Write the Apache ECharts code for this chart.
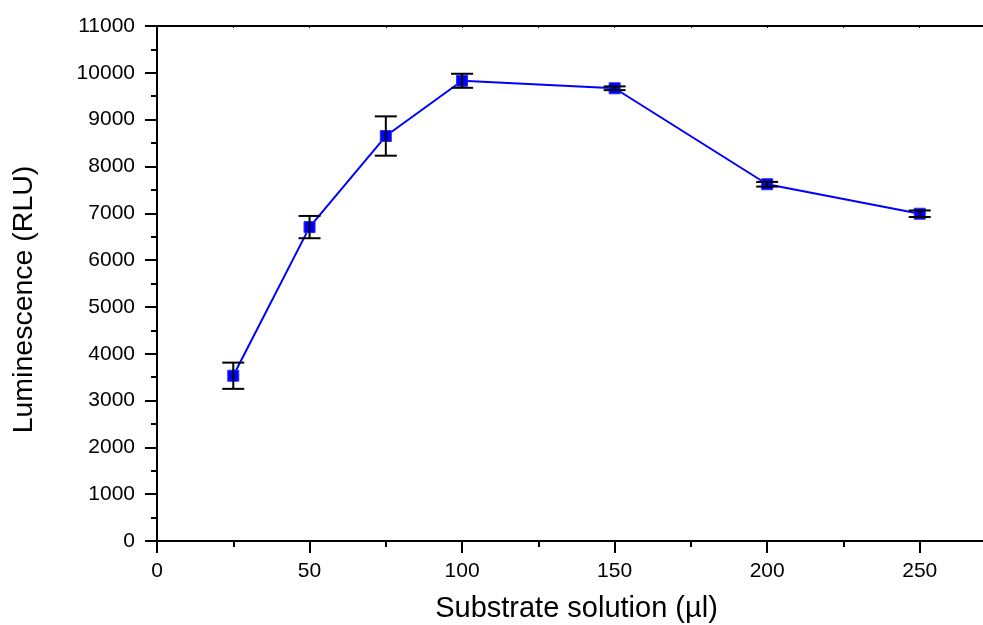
<!DOCTYPE html>
<html>
<head>
  <meta charset="UTF-8">
  <title>Luminescence vs substrate solution</title>
  <style>
    body { margin: 0; background: #fff; }
    #chart { width: 983px; height: 625px; }
  </style>
  <script src="https://cdn.jsdelivr.net/npm/echarts@6/dist/echarts.min.js"></script>
</head>
<body>
  <div id="chart"></div>
  <script>
    // data
    var volumes = [25, 50, 75, 100, 150, 200, 250];
    var lum = [3530, 6705, 8650, 9830, 9670, 7620, 6990];
    var errs = [280, 238, 420, 150, 40, 50, 70];
    var xTicks = [0, 50, 100, 150, 200, 250];

    var font = 'Arial, "Liberation Sans", sans-serif';
    var chart = echarts.init(document.getElementById('chart'));

    var points = volumes.map(function (v, i) { return [v, lum[i]]; });
    var errData = volumes.map(function (v, i) { return [v, lum[i] - errs[i], lum[i] + errs[i]]; });

    // plot runs past the right edge of the picture, like the original
    chart.setOption({
      animation: false,
      grid: { left: 157, top: 26, right: -13, bottom: 84, outerBoundsMode: 'none' },
      xAxis: [{
        type: 'value',
        min: 0,
        max: 275,
        interval: 50,
        name: 'Substrate solution (\u00b5l)',
        nameLocation: 'middle',
        nameGap: 53,
        nameTextStyle: { fontFamily: font, fontSize: 29, color: '#000' },
        axisLine: { lineStyle: { color: '#000', width: 2 } },
        axisTick: { length: 12, lineStyle: { color: '#000', width: 2 } },
        minorTick: { show: true, splitNumber: 2, length: 6, lineStyle: { color: '#000', width: 2 } },
        axisLabel: {
          fontFamily: font, fontSize: 21, color: '#000', margin: 20,
          formatter: function (v) { return xTicks.indexOf(v) >= 0 ? String(v) : ''; }
        },
        splitLine: { show: false }
      }, {
        type: 'value',
        position: 'top',
        min: 0,
        max: 275,
        interval: 25,
        axisLine: { lineStyle: { color: '#000', width: 2 } },
        axisTick: { inside: true, length: 2, lineStyle: { color: '#000' } },
        axisLabel: { show: false },
        splitLine: { show: false }
      }],
      yAxis: {
        type: 'value',
        min: 0,
        max: 11000,
        interval: 1000,
        name: 'Luminescence (RLU)',
        nameLocation: 'middle',
        nameGap: 118,
        // extra right padding nudges the rotated title down a bit
        nameTextStyle: { fontFamily: font, fontSize: 28.5, color: '#000', padding: [0, 32, 0, 0] },
        axisLine: { show: true, lineStyle: { color: '#000', width: 2 } },
        axisTick: { length: 12, lineStyle: { color: '#000', width: 2 } },
        minorTick: { show: true, splitNumber: 2, length: 6, lineStyle: { color: '#000', width: 2 } },
        axisLabel: {
          fontFamily: font, fontSize: 21, color: '#000', margin: 22,
          formatter: function (v) { return String(v); }
        },
        splitLine: { show: false }
      },
      series: [{
        type: 'line',
        data: points,
        symbol: 'rect',
        symbolSize: 11,
        lineStyle: { color: '#0000ff', width: 2 },
        itemStyle: { color: '#0000ff', borderColor: '#2a2aff', borderWidth: 1 },
        z: 3
      }, {
        type: 'custom',
        data: errData,
        z: 4,
        renderItem: function (params, api) {
          var x = api.value(0);
          var lo = api.coord([x, api.value(1)]);
          var hi = api.coord([x, api.value(2)]);
          var half = 11;
          var style = { stroke: '#000', lineWidth: 2 };
          return {
            type: 'group',
            children: [
              { type: 'line', shape: { x1: lo[0], y1: lo[1], x2: hi[0], y2: hi[1] }, style: style },
              { type: 'line', shape: { x1: lo[0] - half, y1: lo[1], x2: lo[0] + half, y2: lo[1] }, style: style },
              { type: 'line', shape: { x1: hi[0] - half, y1: hi[1], x2: hi[0] + half, y2: hi[1] }, style: style }
            ]
          };
        }
      }]
    });
  </script>
</body>
</html>
